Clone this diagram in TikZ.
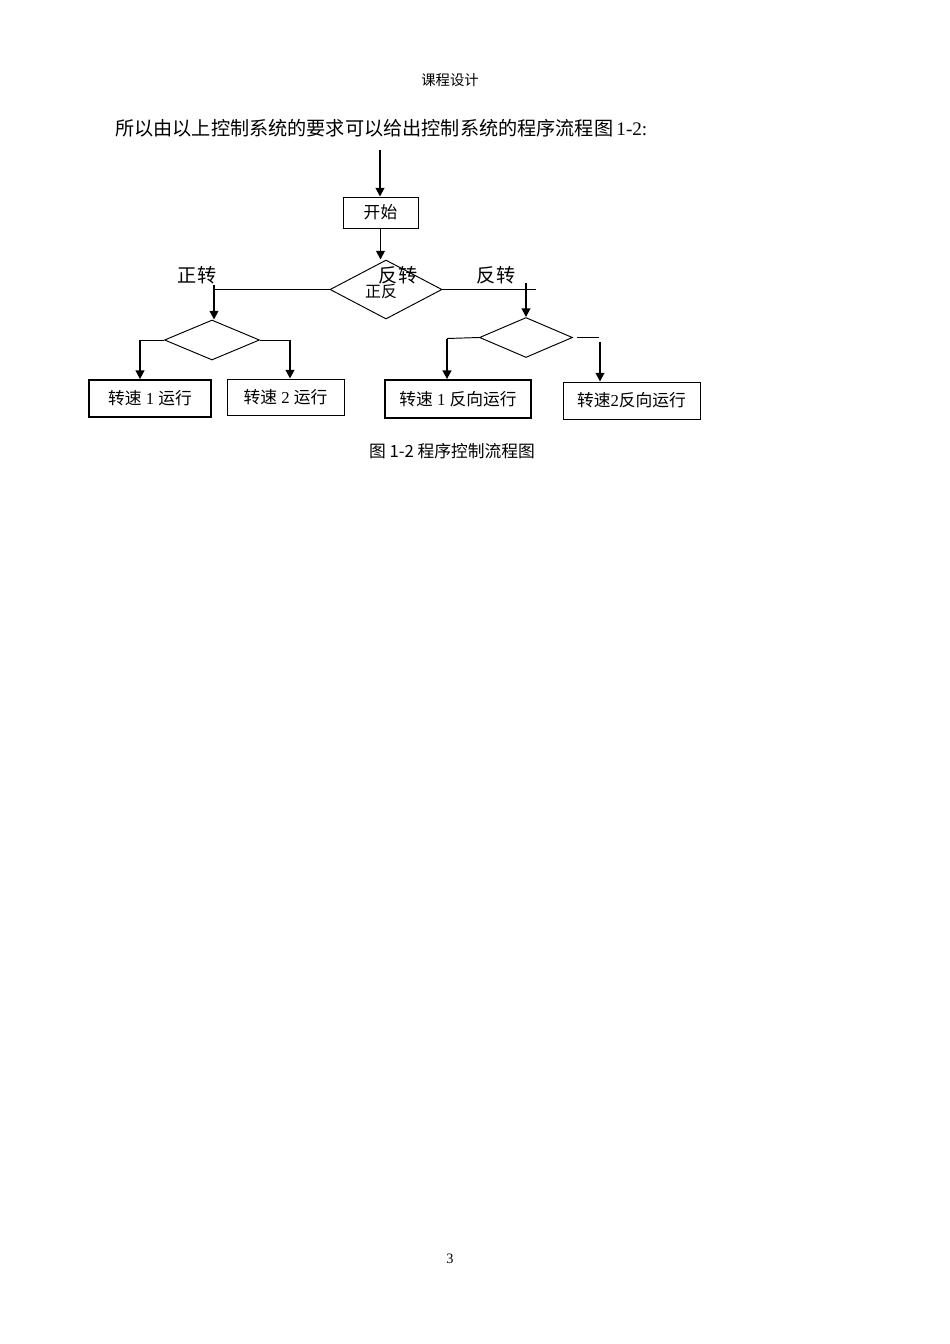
\documentclass[tikz,border=0pt]{standalone}
\usepackage{fontspec}
\setmainfont{Liberation Serif}
\newfontfamily\cjk{Noto Sans CJK SC}
\usetikzlibrary{shapes.geometric,arrows.meta}
\newdimen\px \px=0.6266pt
\begin{document}
\begin{tikzpicture}[x=\px,y=-\px,
  box/.style={draw, rectangle, inner sep=0pt, line width=0.6pt, font=\fontsize{10.5}{12}\selectfont},
  thickbox/.style={box, line width=1.1pt},
  dia/.style={draw, diamond, inner sep=0pt, line width=0.6pt},
  arr/.style={line width=1.1pt,-{Triangle[length=5.5pt,width=5.5pt]}},
  ln/.style={line width=0.6pt},
  lbl/.style={inner sep=0pt, font=\fontsize{12}{14}\selectfont\cjk}]
\useasboundingbox (0,0) rectangle (950,1344);
\fill[white] (0,0) rectangle (950,1344);
% header and text
\node[inner sep=0pt, font=\fontsize{9}{11}\selectfont\cjk] (hdr) at (450,80) {课程设计};
\node[inner sep=0pt, anchor=west, font=\fontsize{12}{14}\selectfont] (title) at (115,128) {{\cjk 所以由以上控制系统的要求可以给出控制系统的程序流程图}\hspace{2pt}1-2:};
% start
\coordinate (top) at (380,150);
\node[box, minimum width=75\px, minimum height=31\px] (start) at (380.5,212.5) {\cjk 开始};
\draw[arr] (top) -- (top |- start.north);
% main diamond
\node[dia, minimum width=112\px, minimum height=59\px] (d1) at (386,289.5) {};
\draw[arr] (start.south) -- (start.south |- d1.north);
\node[lbl] (fz0) at (398,275) {反转};
\node[inner sep=0pt, font=\fontsize{10}{12}\selectfont\cjk] (zf) at (381,292) {正反};
\node[lbl] (zz) at (197,275) {正转};
\node[lbl] (fz) at (496,275) {反转};
% left branch
\node[dia, minimum width=95\px, minimum height=40\px] (d2) at (212,340) {};
\coordinate (lc) at (214,289.5);
\draw[ln] (d1.west) -- (lc);
\coordinate (lv) at (214,285);
\draw[arr] (lv) -- (lv |- d2.north);
\coordinate (l2) at (140,340);
\coordinate (r2) at (290,340);
\node[thickbox, minimum width=122\px, minimum height=37\px] (b1) at (150,398.5) {{\cjk 转速} 1 {\cjk 运行}};
\node[box, minimum width=117\px, minimum height=36\px] (b2) at (285.5,397) {{\cjk 转速} 2 {\cjk 运行}};
\draw[ln] (d2.west) -- (l2);
\draw[arr] (l2) -- (l2 |- b1.north);
\draw[ln] (d2.east) -- (r2);
\draw[arr] (r2) -- (r2 |- b2.north);
% right branch
\coordinate (rend) at (536,289.5);
\draw[ln] (d1.east) -- (rend);
\node[dia, minimum width=93\px, minimum height=40\px] (d3) at (526,337.5) {};
\coordinate (r1) at (526,283);
\draw[arr] (r1) -- (r1 |- d3.north);
\node[thickbox, minimum width=146\px, minimum height=38\px] (b3) at (458,399) {{\cjk 转速} 1 {\cjk 反向运行}};
\node[box, minimum width=137\px, minimum height=37\px] (b4) at (631.5,400.5) {{\cjk 转速}2{\cjk 反向运行}};
\coordinate (l3) at (447,338.5);
\draw[ln] (d3.west) -- (l3);
\draw[arr] (l3) -- (l3 |- b3.north);
\coordinate (s3a) at (577,337.5);
\coordinate (s3b) at (599,337.5);
\draw[ln] (s3a) -- (s3b);
\coordinate (r3) at (600,342);
\draw[arr] (r3) -- (r3 |- b4.north);
% caption and page number
\node[inner sep=0pt, font=\fontsize{10.5}{12}\selectfont\cjk] (cap) at (452,451) {图 1-2 程序控制流程图};
\node[inner sep=0pt, font=\fontsize{9}{11}\selectfont] (pg) at (450,1259) {3};
\end{tikzpicture}
\end{document}
